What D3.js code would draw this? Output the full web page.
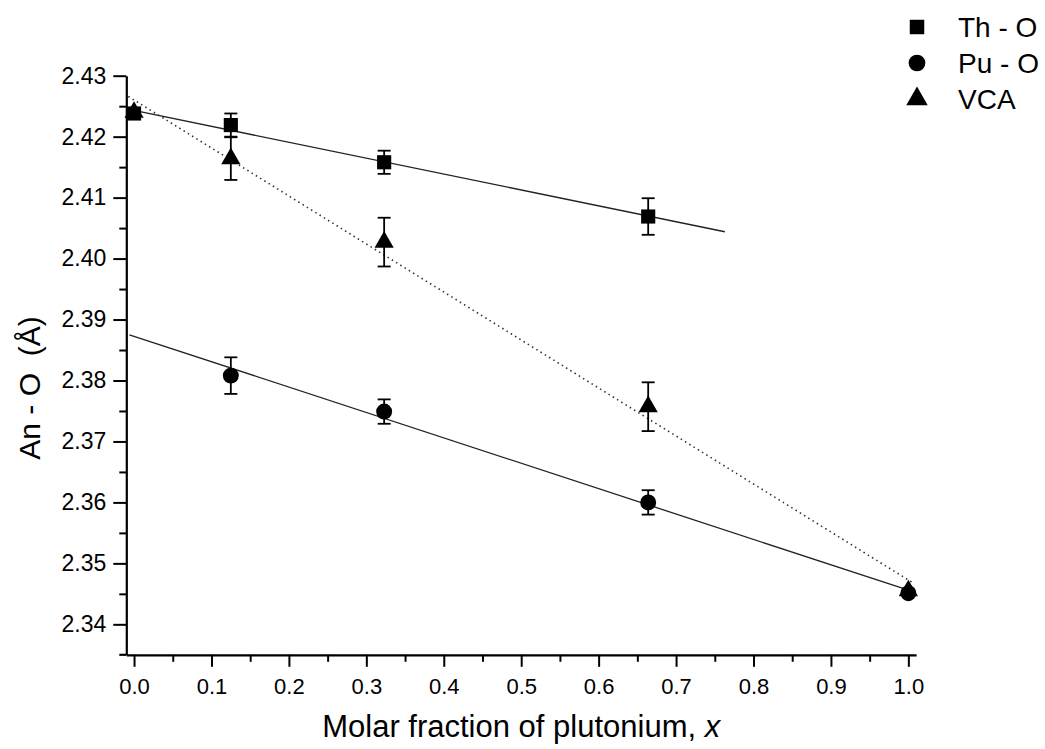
<!DOCTYPE html>
<html>
<head>
<meta charset="utf-8">
<script src="https://cdn.jsdelivr.net/npm/d3@7"></script>
<style>
  body { margin: 0; background: #fff; }
  text { font-family: "Liberation Sans", Arial, Helvetica, sans-serif; fill: #000; }
</style>
</head>
<body>
<svg id="chart" width="1045" height="749"></svg>
<script>
// Data
var thX   = [0, 0.125, 0.323, 0.664];
var thY   = [2.4238, 2.4219, 2.4158, 2.4069];
var thErr = [0, 0.0019, 0.0019, 0.003];

var puX   = [0.125, 0.323, 0.664, 1.0];
var puY   = [2.3808, 2.3749, 2.3600, 2.3451];
var puErr = [0.003, 0.002, 0.002, 0];

var vcaX   = [0, 0.125, 0.323, 0.664, 1.0];
var vcaY   = [2.4240, 2.4164, 2.4027, 2.3757, 2.3455];
var vcaErr = [0, 0.0035, 0.004, 0.004, 0];

// fitted lines (end points)
var thFitX  = [0, 0.763],     thFitY  = [2.4243, 2.4044];
var puFitX  = [-0.006, 1.0],  puFitY  = [2.3875, 2.3456];
var vcaFitX = [-0.0074, 1.006], vcaFitY = [2.4266, 2.3468];

var xTicks = [0, 0.1, 0.2, 0.3, 0.4, 0.5, 0.6, 0.7, 0.8, 0.9, 1.0];
var xMinor = [0.05, 0.15, 0.25, 0.35, 0.45, 0.55, 0.65, 0.75, 0.85, 0.95];
var yTicks = [2.34, 2.35, 2.36, 2.37, 2.38, 2.39, 2.40, 2.41, 2.42, 2.43];
var yMinor = [2.345, 2.355, 2.365, 2.375, 2.385, 2.395, 2.405, 2.415, 2.425];

var legendNames = ["Th - O", "Pu - O", "VCA"];

var svg = d3.select('#chart');

var x = d3.scaleLinear().domain([-0.01, 1.01]).range([126.3, 916.1]);
var y = d3.scaleLinear().domain([2.335, 2.43]).range([654.8, 75.7]);

// axes
var xAxis = svg.append('g')
    .attr('transform', 'translate(0,' + y.range()[0] + ')')
    .call(d3.axisBottom(x).tickValues(xTicks).tickSize(12).tickSizeOuter(0)
      .tickPadding(12).tickFormat(d3.format('.1f')));
xAxis.selectAll('text').style('font-size', '22px');

var xMin = svg.append('g')
    .attr('transform', 'translate(0,' + y.range()[0] + ')')
    .call(d3.axisBottom(x).tickValues(xMinor).tickSize(7).tickSizeOuter(0).tickFormat(''));
xMin.select('.domain').remove();

var yAxis = svg.append('g')
    .attr('transform', 'translate(' + x.range()[0] + ',0)')
    .call(d3.axisLeft(y).tickValues(yTicks).tickSize(13).tickSizeOuter(0)
      .tickPadding(7).tickFormat(d3.format('.2f')));
yAxis.selectAll('text').style('font-size', '23px');

var yMin = svg.append('g')
    .attr('transform', 'translate(' + x.range()[0] + ',0)')
    .call(d3.axisLeft(y).tickValues(yMinor).tickSize(7).tickSizeOuter(0).tickFormat(''));
yMin.select('.domain').remove();

svg.selectAll('.domain').attr('stroke-width', 2.2).attr('stroke', '#000');
svg.selectAll('.tick line').attr('stroke-width', 2).attr('stroke', '#000');

// small overshoot of the bottom axis to the left, like the original
svg.append('line')
    .attr('x1', x.range()[0] - 7).attr('x2', x.range()[0])
    .attr('y1', y.range()[0]).attr('y2', y.range()[0])
    .attr('stroke', '#000').attr('stroke-width', 2.2);

// axis titles
var xt = svg.append('text')
    .attr('x', (x(0) + x(1)) / 2).attr('y', 737)
    .attr('text-anchor', 'middle')
    .style('font-size', '31px');
xt.append('tspan').text('Molar fraction of plutonium, ');
xt.append('tspan').style('font-style', 'italic').text('x');

svg.append('text')
    .attr('transform', 'translate(40,388) rotate(-90)')
    .attr('text-anchor', 'middle')
    .attr('xml:space', 'preserve')
    .style('font-size', '30px')
    .text('An - O  (Å)');

// fit lines
var line = d3.line().x(d => x(d[0])).y(d => y(d[1]));
function fitLine(fx, fy, dash) {
  svg.append('path')
      .datum(d3.zip(fx, fy))
      .attr('d', line)
      .attr('fill', 'none')
      .attr('stroke', dash ? '#333' : '#222')
      .attr('stroke-width', dash ? 1.6 : 1.3)
      .attr('stroke-dasharray', dash ? '1.5,3.5' : null);
}
fitLine(thFitX, thFitY, false);
fitLine(puFitX, puFitY, false);
fitLine(vcaFitX, vcaFitY, true);

// error bars
function errorBars(xs, ys, es) {
  var data = d3.zip(xs, ys, es).filter(d => d[2] > 0);
  var g = svg.append('g').attr('stroke', '#000').attr('stroke-width', 1.8);
  g.selectAll('.v').data(data).enter().append('line')
      .attr('x1', d => x(d[0])).attr('x2', d => x(d[0]))
      .attr('y1', d => y(d[1] - d[2])).attr('y2', d => y(d[1] + d[2]));
  [1, -1].forEach(function (s) {
    g.selectAll('.c' + s).data(data).enter().append('line')
        .attr('x1', d => x(d[0]) - 6.5).attr('x2', d => x(d[0]) + 6.5)
        .attr('y1', d => y(d[1] + s * d[2])).attr('y2', d => y(d[1] + s * d[2]));
  });
}
errorBars(thX, thY, thErr);
errorBars(puX, puY, puErr);
errorBars(vcaX, vcaY, vcaErr);

// markers
var shapes = [
  d3.symbol().type(d3.symbolSquare).size(200),
  d3.symbol().type(d3.symbolCircle).size(200),
  d3.symbol().type(d3.symbolTriangle).size(160)
];
function markers(xs, ys, shape) {
  svg.append('g').selectAll('path')
      .data(d3.zip(xs, ys)).enter().append('path')
      .attr('transform', d => 'translate(' + x(d[0]) + ',' + y(d[1]) + ')')
      .attr('d', shape)
      .attr('fill', '#000');
}
markers(thX, thY, shapes[0]);
markers(puX, puY, shapes[1]);
markers(vcaX, vcaY, shapes[2]);

// legend
var legendShapes = [
  d3.symbol().type(d3.symbolSquare).size(210),
  d3.symbol().type(d3.symbolCircle).size(220),
  d3.symbol().type(d3.symbolTriangle).size(200)
];
var leg = svg.append('g').attr('transform', 'translate(917,27)');
legendNames.forEach(function (name, i) {
  leg.append('path')
      .attr('transform', 'translate(0,' + (i * 36) + ')')
      .attr('d', legendShapes[i])
      .attr('fill', '#000');
  leg.append('text')
      .attr('x', 41).attr('y', i * 36).attr('dy', '0.35em')
      .style('font-size', '28px')
      .text(name);
});
</script>
</body>
</html>
